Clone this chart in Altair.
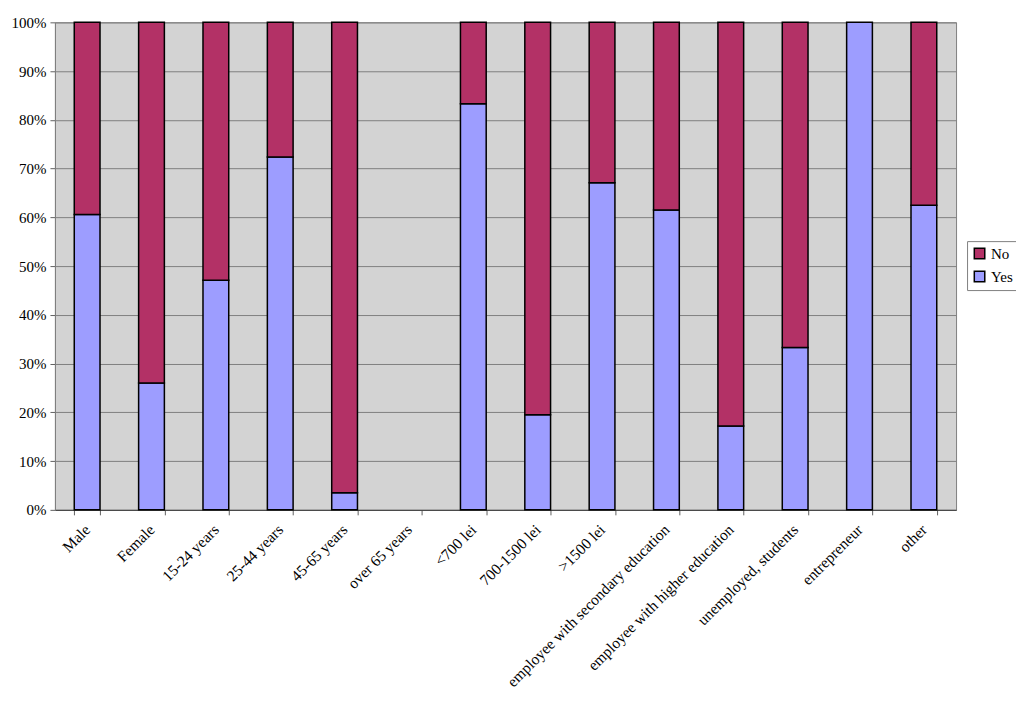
import altair as alt
import pandas as pd

categories = ["Male", "Female", "15-24 years", "25-44 years", "45-65  years", "over 65 years",
              "<700 lei", "700-1500 lei", ">1500 lei", "employee with secondary education",
              "employee with higher education", "unemployed, students", "entrepreneur", "other"]
yes_vals = [60.6, 26.0, 47.1, 72.4, 3.5, 0.0, 83.3, 19.5, 67.1, 61.5, 17.2, 33.3, 100.0, 62.5]
no_vals = [39.4, 74.0, 52.9, 27.6, 96.5, 0.0, 16.7, 80.5, 32.9, 38.5, 82.8, 66.7, 0.0, 37.5]
series = ["No", "Yes"]
colors = ["#B33166", "#9D9DFF"]

rows = []
for c, y, n in zip(categories, yes_vals, no_vals):
    rows.append({"category": c, "answer": "Yes", "value": y, "ord": 0})
    rows.append({"category": c, "answer": "No", "value": n, "ord": 1})
df = pd.DataFrame(rows)

serif = "Liberation Serif"

chart = alt.Chart(df).transform_filter(alt.datum.value > 0).mark_bar(
    stroke="black", strokeWidth=1.5
).encode(
    x=alt.X("category:N", sort=categories, title=None,
            scale=alt.Scale(domain=categories, paddingInner=0.6, paddingOuter=0.3),
            axis=alt.Axis(labelAngle=-45, labelAlign="right", labelBaseline="middle",
                          labelFont=serif, labelFontSize=15.5, labelColor="black",
                          labelPadding=12, tickBand="extent", tickSize=5, tickColor="#606060",
                          domainColor="#404040", grid=False, labelLimit=400)),
    y=alt.Y("value:Q", stack="normalize", title=None,
            scale=alt.Scale(domain=[0, 1], nice=False),
            axis=alt.Axis(format=".0%", values=[i / 10 for i in range(11)],
                          labelFont=serif, labelFontSize=15, labelColor="black",
                          tickSize=5, tickColor="#606060", domainColor="#808080",
                          gridColor="#808080", gridWidth=1, labelPadding=4)),
    color=alt.Color("answer:N", scale=alt.Scale(domain=series, range=colors),
                    legend=alt.Legend(title=None, orient="none", legendX=913, legendY=219,
                                      labelFont=serif, labelFontSize=15, labelColor="black",
                                      symbolType="square", symbolSize=110,
                                      symbolStrokeColor="black", symbolStrokeWidth=1.5,
                                      strokeColor="#808080", fillColor="white",
                                      padding=5, rowPadding=6)),
    order=alt.Order("ord:Q")
).properties(
    width=902, height=488,
    background="white",
    padding={"left": 47, "top": 14, "right": 60, "bottom": 190},
    autosize=alt.AutoSizeParams(type="none")
).configure_view(
    fill="#D3D3D3", stroke="#808080"
)

chart.save("out.html", embed_options={"renderer": "svg", "actions": False})
